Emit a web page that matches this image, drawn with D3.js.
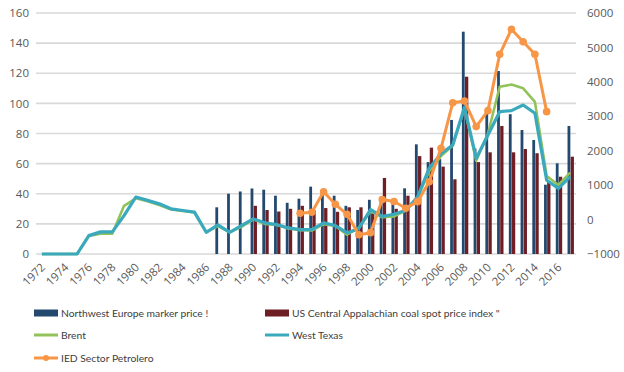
<!DOCTYPE html>
<html>
<head>
<meta charset="utf-8">
<title>Coal and oil prices</title>
<script src="https://d3js.org/d3.v7.min.js"></script>
<style>
  body { margin: 0; background: #fff; }
</style>
</head>
<body>
<script>
// years shown on the x axis
var years = d3.range(1972, 2018);

// Northwest Europe marker price (bars, left axis) - starts 1987
var nwEurope = [null, null, null, null, null, null, null, null, null, null,
  null, null, null, null, null, 31, 40, 41.5, 43.5, 42.7, 38.7, 34, 36.7, 44.7,
  40, 38.7, 32, 29.2, 36, 38, 33, 43.6, 72.8, 61, 63, 89, 147.6, 70, 93, 121.5,
  92.8, 82.3, 75.7, 46, 60.2, 85];

// US Central Appalachian coal spot price index (bars, left axis) - starts 1990
var usAppalachian = [null, null, null, null, null, null, null, null, null, null,
  null, null, null, null, null, null, null, null, 32, 29.2, 28.2, 30, 32, 29,
  30.5, 28, 31, 31, 27, 50.5, 30, 38.7, 65, 70.6, 58, 49.6, 117.7, 61, 67.5, 85,
  67.5, 69.7, 66.9, 48, 51.3, 64.6];

// Brent (left axis)
var brent = [0, 0, 0, 0, 12, 13.5, 13.5, 32, 37, 35, 32.5, 29.5, 28.5, 27.5,
  14.5, 18.5, 14.5, 18, 23, 20, 19.3, 17, 15.8, 15.6, 19.8, 18.6, 12.8, 17.5,
  28.5, 24.4, 25, 28.8, 37.5, 55, 65, 72, 97, 62, 80, 111, 112.5, 110, 101,
  51.8, 45.8, 54];

// West Texas (left axis)
var westTexas = [0, 0, 0, 0, 12.2, 14.7, 14.7, 25.5, 37.8, 35.6, 33.3, 30,
  28.9, 27.8, 14.4, 19.3, 14.4, 18.9, 23.3, 20.7, 19.6, 17.3, 16.2, 16.2, 20.7,
  18.9, 14, 17, 29.5, 25, 26.4, 29, 37.8, 57, 66.5, 72.4, 97.4, 63.5, 79, 94.5,
  95.2, 98.9, 93.4, 49, 43.6, 51.3];

// IED Sector Petrolero (right axis) - 1994 to 2015
var iedYears = d3.range(1994, 2016);
var iedValues = [183, 212, 810, 444, 154, -440, -380, 580, 525, 328, 520, 1100,
  2070, 3395, 3444, 2700, 3163, 4800, 5527, 5167, 4800, 3134];

var leftTicks = [0, 20, 40, 60, 80, 100, 120, 140, 160];
var rightTicks = [-1000, 0, 1000, 2000, 3000, 4000, 5000, 6000];

var legendItems = [
  { name: "Northwest Europe marker price !", type: "bar", color: "#24496f" },
  { name: "US Central Appalachian coal spot price index  \"", type: "bar", color: "#6e1f26" },
  { name: "Brent", type: "line", color: "#92c35a" },
  { name: "West Texas", type: "line", color: "#3aa9bd" },
  { name: "IED Sector Petrolero", type: "marker", color: "#f79646" }
];

var w = 624, h = 372;
var plotL = 36, plotR = 576, plotT = 13, plotB = 254;

var svg = d3.select("body").append("svg")
  .attr("width", w)
  .attr("height", h);

var x = d3.scaleBand().domain(years).range([plotL, plotR]);
var cx = function(yr) { return x(yr) + x.bandwidth() / 2; };
var yL = d3.scaleLinear().domain([0, 160]).range([plotB, plotT]);
var yR = d3.scaleLinear().domain([-1000, 6000]).range([plotB, plotT]);

// gridlines
svg.append("g").selectAll("line")
  .data(leftTicks)
  .enter().append("line")
  .attr("x1", plotL).attr("x2", plotR)
  .attr("y1", d => yL(d)).attr("y2", d => yL(d))
  .attr("stroke", "#d9d9d9")
  .attr("stroke-width", 1.6);

// left axis
var axL = svg.append("g")
  .attr("transform", "translate(" + (plotL - 7) + ",0)")
  .call(d3.axisLeft(yL).tickValues(leftTicks).tickSize(0).tickPadding(0));
axL.select(".domain").remove();
axL.selectAll("text").attr("font-size", 11.5).attr("fill", "#595959")
  .attr("font-family", "Open Sans, sans-serif");

// right axis
var axR = svg.append("g")
  .attr("transform", "translate(" + (plotR + 11) + ",0)")
  .call(d3.axisRight(yR).tickValues(rightTicks).tickSize(0).tickPadding(0).tickFormat(d3.format("d")));
axR.select(".domain").remove();
axR.selectAll("text").attr("font-size", 11.5).attr("fill", "#595959")
  .attr("font-family", "Open Sans, sans-serif");

// x axis labels (every second year, rotated)
var axX = svg.append("g")
  .attr("transform", "translate(0," + plotB + ")")
  .call(d3.axisBottom(x).tickValues(years.filter(d => d % 2 == 0)).tickSize(0).tickPadding(0));
axX.select(".domain").remove();
axX.selectAll("text")
  .attr("font-size", 11.5).attr("fill", "#595959")
  .attr("font-family", "Open Sans, sans-serif")
  .attr("text-anchor", "end")
  .attr("dy", 0)
  .attr("transform", "translate(4,14) rotate(-45)");

// bars
var barData = years.map(function(yr, i) {
  return { year: yr, nw: nwEurope[i], us: usAppalachian[i] };
});

svg.append("g").selectAll("rect")
  .data(barData.filter(d => d.nw != null))
  .enter().append("rect")
  .attr("x", d => cx(d.year) - 2.6)
  .attr("width", 2.8)
  .attr("y", d => yL(d.nw))
  .attr("height", d => yL(0) - yL(d.nw))
  .attr("fill", legendItems[0].color);

svg.append("g").selectAll("rect")
  .data(barData.filter(d => d.us != null))
  .enter().append("rect")
  .attr("x", d => cx(d.year) + 0.5)
  .attr("width", 3.3)
  .attr("y", d => yL(d.us))
  .attr("height", d => yL(0) - yL(d.us))
  .attr("fill", legendItems[1].color);

// lines
var lineL = d3.line()
  .x(d => cx(d[0]))
  .y(d => yL(d[1]));

svg.append("path")
  .datum(years.map((yr, i) => [yr, brent[i]]))
  .attr("d", lineL)
  .attr("fill", "none")
  .attr("stroke", legendItems[2].color)
  .attr("stroke-width", 2.6)
  .attr("stroke-linejoin", "round");

svg.append("path")
  .datum(years.map((yr, i) => [yr, westTexas[i]]))
  .attr("d", lineL)
  .attr("fill", "none")
  .attr("stroke", legendItems[3].color)
  .attr("stroke-width", 3.2)
  .attr("stroke-linejoin", "round");

var lineR = d3.line()
  .x(d => cx(d[0]))
  .y(d => yR(d[1]));

var iedData = iedYears.map((yr, i) => [yr, iedValues[i]]);
svg.append("path")
  .datum(iedData)
  .attr("d", lineR)
  .attr("fill", "none")
  .attr("stroke", legendItems[4].color)
  .attr("stroke-width", 3)
  .attr("stroke-linejoin", "round");

svg.append("g").selectAll("circle")
  .data(iedData)
  .enter().append("circle")
  .attr("cx", d => cx(d[0]))
  .attr("cy", d => yR(d[1]))
  .attr("r", 3.8)
  .attr("fill", legendItems[4].color);

// legend
var legendPos = [[34, 313], [265, 313], [34, 335], [265, 335], [34, 358]];
var lg = svg.append("g").selectAll("g")
  .data(legendItems)
  .enter().append("g")
  .attr("transform", (d, i) => "translate(" + legendPos[i][0] + "," + legendPos[i][1] + ")");

lg.filter(d => d.type == "bar").append("rect")
  .attr("x", 0).attr("y", -3.5)
  .attr("width", 24).attr("height", 7)
  .attr("fill", d => d.color);

lg.filter(d => d.type != "bar").append("line")
  .attr("x1", 0).attr("x2", 24)
  .attr("stroke", d => d.color)
  .attr("stroke-width", 3);

lg.filter(d => d.type == "marker").append("circle")
  .attr("cx", 12).attr("r", 3)
  .attr("fill", d => d.color);

lg.append("text")
  .attr("x", 27)
  .attr("dy", "0.35em")
  .attr("font-size", 10.3)
  .attr("font-family", "Lato, sans-serif")
  .attr("fill", "#404040")
  .text(d => d.name);
</script>
</body>
</html>
